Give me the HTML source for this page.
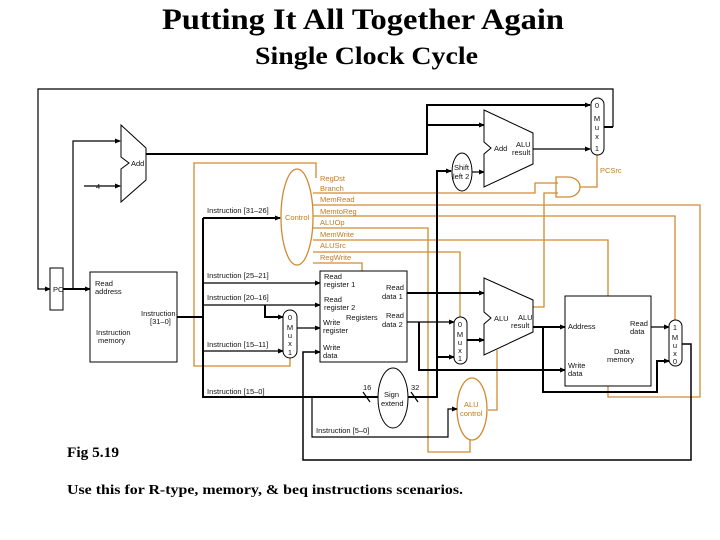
<!DOCTYPE html>
<html><head><style>
body{margin:0;background:#fff;}
svg{display:block}
.t{font-family:"Liberation Sans",sans-serif;font-size:7.5px;fill:#111}
.o{font-family:"Liberation Sans",sans-serif;font-size:7.5px;fill:#c07a20}
.s{font-family:"Liberation Serif",serif;fill:#000;font-weight:bold}
</style></head><body>
<svg width="720" height="540" viewBox="0 0 720 540" xmlns="http://www.w3.org/2000/svg">
<defs>
<marker id="a" markerWidth="6" markerHeight="6" refX="5" refY="3" orient="auto" markerUnits="userSpaceOnUse"><path d="M0,0.5 L6,3 L0,5.5z" fill="#000"/></marker>
</defs>
<text class="s" x="162" y="29" font-size="30" textLength="402" lengthAdjust="spacingAndGlyphs">Putting It All Together Again</text>
<text class="s" x="255" y="64" font-size="25" textLength="223" lengthAdjust="spacingAndGlyphs">Single Clock Cycle</text>
<text class="s" x="67" y="457" font-size="15" textLength="52" lengthAdjust="spacingAndGlyphs">Fig 5.19</text>
<text class="s" x="67" y="494" font-size="14" textLength="396" lengthAdjust="spacingAndGlyphs">Use this for R-type, memory, &amp; beq instructions scenarios.</text>

<!-- orange control lines -->
<g fill="none" stroke="#d08a30" stroke-width="1.3">
<path d="M316,178 V163 H194 V366 H290 V358"/>
<path d="M313,193 H535 V183 H558"/>
<path d="M313,205 H700 V397 H608 V386"/>
<path d="M313,216 H675 V320"/>
<path d="M313,228 H428 V452 H470 V440"/>
<path d="M313,240 H608 V296"/>
<path d="M313,252 H460 V317"/>
<path d="M313,263 H362 V271"/>
<path d="M533,307 H544 V193 H558"/>
<path d="M580,187 H597 V155"/>
<path d="M488,410 H497 V350"/>
<ellipse cx="297" cy="217" rx="16" ry="48"/>
<path d="M556,177 H568 A12,10 0 0 1 568,197 H556 Z"/>
<ellipse cx="472" cy="409" rx="15" ry="31"/>
</g>
<text class="o" x="285" y="220">Control</text>
<text class="o" x="320" y="181">RegDst</text>
<text class="o" x="320" y="191">Branch</text>
<text class="o" x="320" y="202">MemRead</text>
<text class="o" x="320" y="214">MemtoReg</text>
<text class="o" x="320" y="225">ALUOp</text>
<text class="o" x="320" y="237">MemWrite</text>
<text class="o" x="320" y="248">ALUSrc</text>
<text class="o" x="320" y="260">RegWrite</text>
<text class="o" x="600" y="173">PCSrc</text>
<text class="o" x="515" y="310">Zero</text>
<text class="o" x="464" y="407">ALU</text>
<text class="o" x="460" y="416">control</text>

<!-- black wires -->
<g fill="none" stroke="#000" stroke-width="1.2">
<path d="M613,127 V89 H38 V289 H50" marker-end="url(#a)"/>
<path d="M613,127 H604" stroke-width="2"/>
<path d="M63,289 H90" stroke-width="2" marker-end="url(#a)"/>
<path d="M73,289 V141 H120" marker-end="url(#a)"/>
<path d="M84,186 H120" marker-end="url(#a)"/>
<path d="M146,154 H427 V105 H590" stroke-width="2" marker-end="url(#a)"/>
<path d="M427,125 H484" stroke-width="2" marker-end="url(#a)"/>
<path d="M533,149 H590" marker-end="url(#a)"/>
<path d="M437,397 V171 H451" stroke-width="2" marker-end="url(#a)"/>
<path d="M472,172 H484" marker-end="url(#a)"/>
<path d="M177,317 H203" stroke-width="2"/>
<path d="M203,218 V397 H378" stroke-width="2"/>
<path d="M203,218 H280" stroke-width="2" marker-end="url(#a)"/>
<path d="M203,283 H320" marker-end="url(#a)"/>
<path d="M203,305 H320" marker-end="url(#a)"/>
<path d="M265,305 V317 H283" stroke-width="2" marker-end="url(#a)"/>
<path d="M203,351 H283" marker-end="url(#a)"/>
<path d="M297,328 H320" marker-end="url(#a)"/>
<path d="M312,397 V437 H448 V409 H457" marker-end="url(#a)"/>
<path d="M407,293 H484" stroke-width="2" marker-end="url(#a)"/>
<path d="M407,322 H454" marker-end="url(#a)"/>
<path d="M419,322 V370 H565" stroke-width="2" marker-end="url(#a)"/>
<path d="M408,397 H437 V357 H454" stroke-width="2" marker-end="url(#a)"/>
<path d="M467,340 H484" stroke-width="2" marker-end="url(#a)"/>
<path d="M533,327 H565" stroke-width="2" marker-end="url(#a)"/>
<path d="M543,327 V392 H657 V361 H669" stroke-width="2" marker-end="url(#a)"/>
<path d="M651,327 H669" marker-end="url(#a)"/>
<path d="M682,344 H691 V460 H303 V352 H320" stroke-width="1.5" marker-end="url(#a)"/>
<path d="M363,392 L370,402 M411,392 L418,402"/>
</g>
<!-- components -->
<g fill="#fff" stroke="#000" stroke-width="1">
<rect x="50" y="268" width="13" height="42"/>
<rect x="90" y="272" width="87" height="90"/>
<rect x="320" y="271" width="87" height="91"/>
<rect x="565" y="296" width="86" height="90"/>
<path d="M121,125 L146,148 V180 L121,202 V169 L129,163 L121,157 Z"/>
<path d="M484,110 L533,133 V164 L484,187 V154 L491,148 L484,142 Z"/>
<path d="M484,278 L533,300 V332 L484,355 V324 L491,318 L484,312 Z"/>
<rect x="591" y="98" width="13" height="57" rx="6.5"/>
<rect x="283" y="310" width="14" height="48" rx="7"/>
<rect x="454" y="317" width="13" height="47" rx="6.5"/>
<rect x="669" y="320" width="13" height="46" rx="6.5"/>
<ellipse cx="462" cy="172" rx="10" ry="19"/>
<ellipse cx="393" cy="398" rx="15" ry="30"/>
</g>
<text class="t" x="53" y="292">PC</text>
<text class="t" x="131" y="166">Add</text>
<text class="t" x="96" y="189">4</text>
<text class="t" x="494" y="151">Add</text>
<text class="t" x="516" y="147">ALU</text>
<text class="t" x="512" y="155">result</text>
<text class="t" x="454" y="170">Shift</text>
<text class="t" x="453" y="179">left 2</text>
<g class="t" text-anchor="middle"><text x="597" y="108">0</text><text x="597" y="121">M</text><text x="597" y="130">u</text><text x="597" y="139">x</text><text x="597" y="151">1</text>
<text x="290" y="320">0</text><text x="290" y="330">M</text><text x="290" y="338">u</text><text x="290" y="346">x</text><text x="290" y="355">1</text>
<text x="460" y="327">0</text><text x="460" y="337">M</text><text x="460" y="345">u</text><text x="460" y="353">x</text><text x="460" y="361">1</text>
<text x="675" y="330">1</text><text x="675" y="340">M</text><text x="675" y="348">u</text><text x="675" y="356">x</text><text x="675" y="364">0</text></g>
<text class="t" x="95" y="286">Read</text><text class="t" x="95" y="294">address</text>
<text class="t" x="141" y="316">Instruction</text><text class="t" x="150" y="324">[31–0]</text>
<text class="t" x="96" y="335">Instruction</text><text class="t" x="98" y="343">memory</text>
<text class="t" x="207" y="213">Instruction [31–26]</text>
<text class="t" x="207" y="278">Instruction [25–21]</text>
<text class="t" x="207" y="300">Instruction [20–16]</text>
<text class="t" x="207" y="347">Instruction [15–11]</text>
<text class="t" x="207" y="394">Instruction [15–0]</text>
<text class="t" x="316" y="433">Instruction [5–0]</text>
<text class="t" x="324" y="279">Read</text><text class="t" x="324" y="287">register 1</text>
<text class="t" x="324" y="302">Read</text><text class="t" x="324" y="310">register 2</text>
<text class="t" x="346" y="320">Registers</text>
<text class="t" x="323" y="325">Write</text><text class="t" x="323" y="333">register</text>
<text class="t" x="323" y="350">Write</text><text class="t" x="323" y="358">data</text>
<text class="t" x="386" y="290">Read</text><text class="t" x="382" y="299">data 1</text>
<text class="t" x="386" y="318">Read</text><text class="t" x="382" y="327">data 2</text>
<text class="t" x="363" y="390">16</text><text class="t" x="411" y="390">32</text>
<text class="t" x="384" y="397">Sign</text><text class="t" x="381" y="406">extend</text>
<text class="t" x="494" y="321">ALU</text>
<text class="t" x="518" y="320">ALU</text><text class="t" x="511" y="328">result</text>
<text class="t" x="568" y="329">Address</text>
<text class="t" x="630" y="326">Read</text><text class="t" x="630" y="334">data</text>
<text class="t" x="614" y="354">Data</text><text class="t" x="607" y="362">memory</text>
<text class="t" x="568" y="368">Write</text><text class="t" x="568" y="376">data</text>
</svg>
</body></html>
